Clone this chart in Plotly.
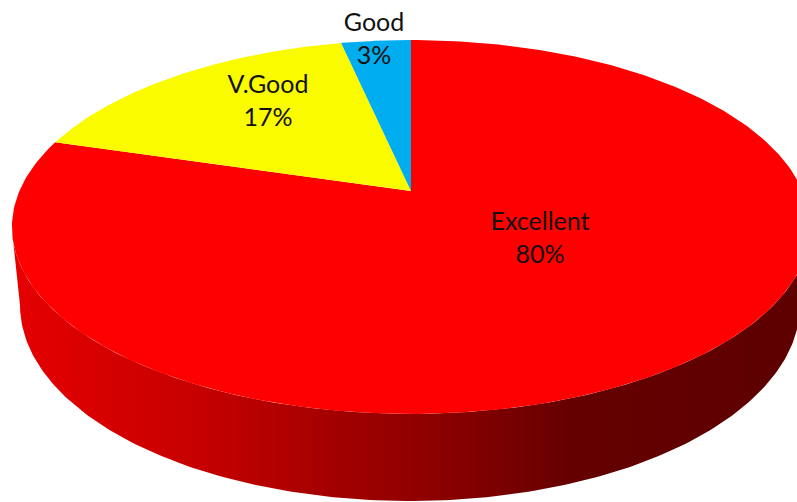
import numpy as np
import plotly.graph_objects as go

# Data (shares of the pie, clockwise from 12 o'clock)
categories = ["Excellent", "V.Good", "Good"]
values = [79.6, 17.0, 3.4]
percent_labels = ["80%", "17%", "3%"]

# Styles and layout geometry
slice_colors = ["#FF0000", "#FBFB00", "#00ADEE"]
label_pos = [(540, 240), (268, 103), (374, 41)]
W, H = 797, 502
APEX_X, APEX_Y = 411, 191      # projected pie centre
RX, RY, K = 391.6, 180.0, 0.1925   # perspective projection of the top disc
BASE_X, BASE_Y, BASE_A, BASE_B = 410, 305, 390, 196  # lower rim ellipse


def project(theta):
    u, v = np.sin(theta), np.cos(theta)
    d = 1 + K * v
    return APEX_X + RX * u / d, APEX_Y - RY * v / d


fig = go.Figure()

# Side wall with a horizontal gradient
t_front = np.radians(np.linspace(258, 102, 200))
tx, ty = project(t_front)
b = np.radians(np.linspace(90, 270, 200))
bx = BASE_X + BASE_A * np.sin(b)
by = BASE_Y - BASE_B * np.cos(b)
fig.add_trace(go.Scatter(
    x=np.concatenate([tx, bx]), y=np.concatenate([ty, by]),
    mode="lines", line=dict(width=0), fill="toself",
    fillgradient=dict(
        type="horizontal", start=12, stop=797,
        colorscale=[[0, "#E60000"], [0.25, "#C40000"], [0.4, "#A50000"],
                    [0.55, "#8A0000"], [0.72, "#640000"], [1, "#5E0000"]],
    ),
    hoverinfo="skip", showlegend=False,
))

# Top face slices
edges = np.cumsum([0] + values) / sum(values) * 2 * np.pi
for i, name in enumerate(categories):
    th = np.linspace(edges[i], edges[i + 1], 300)
    x, y = project(th)
    fig.add_trace(go.Scatter(
        x=np.concatenate([[APEX_X], x, [APEX_X]]),
        y=np.concatenate([[APEX_Y], y, [APEX_Y]]),
        mode="lines", line=dict(width=0), fill="toself",
        fillcolor=slice_colors[i], name=name,
        hoverinfo="name", showlegend=False,
    ))

# Data labels
fig.add_trace(go.Scatter(
    x=[p[0] for p in label_pos], y=[p[1] for p in label_pos],
    mode="text",
    text=[f"{c}<br>{p}" for c, p in zip(categories, percent_labels)],
    textposition="middle center",
    textfont=dict(family="Lato, Carlito, sans-serif", size=25, color="#111111"),
    hoverinfo="skip", showlegend=False,
))

fig.update_layout(
    width=W, height=H, margin=dict(l=0, r=0, t=0, b=0),
    paper_bgcolor="white", plot_bgcolor="white", showlegend=False,
    xaxis=dict(range=[0, W], visible=False, fixedrange=True),
    yaxis=dict(range=[H, 0], visible=False, fixedrange=True),
)
fig.write_html(
    "out.html",
    config=dict(displayModeBar=False),
    post_script="document.body.style.margin='0';document.body.style.overflow='hidden';",
)
